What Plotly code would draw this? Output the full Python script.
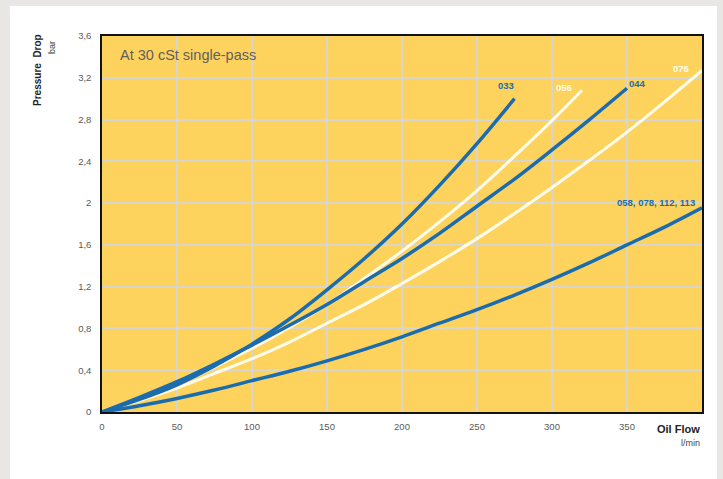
import plotly.graph_objects as go

# Oil flow (l/min) vs pressure drop (bar)
flow_033 = [0, 25, 50, 75, 100, 125, 150, 175, 200, 225, 250, 275]
dp_033 = [0, 0.12, 0.26, 0.44, 0.65, 0.89, 1.17, 1.47, 1.8, 2.17, 2.57, 3.0]

flow_056 = [0, 25, 50, 75, 100, 125, 150, 175, 200, 225, 250, 275, 300, 320]
dp_056 = [0, 0.12, 0.26, 0.43, 0.61, 0.81, 1.03, 1.28, 1.54, 1.82, 2.12, 2.45, 2.79, 3.08]

flow_044 = [0, 25, 50, 75, 100, 125, 150, 175, 200, 225, 250, 275, 300, 325, 350]
dp_044 = [0, 0.14, 0.29, 0.46, 0.64, 0.83, 1.03, 1.25, 1.47, 1.71, 1.97, 2.23, 2.51, 2.8, 3.1]

flow_076 = [0, 25, 50, 75, 100, 125, 150, 175, 200, 225, 250, 275, 300, 325, 350, 375, 400]
dp_076 = [0, 0.11, 0.23, 0.37, 0.51, 0.67, 0.85, 1.03, 1.23, 1.44, 1.66, 1.9, 2.15, 2.41, 2.68, 2.97, 3.27]

flow_058 = [0, 25, 50, 75, 100, 125, 150, 175, 200, 225, 250, 275, 300, 325, 350, 375, 400]
dp_058 = [0, 0.06, 0.13, 0.21, 0.3, 0.39, 0.49, 0.6, 0.72, 0.85, 0.98, 1.12, 1.27, 1.43, 1.6, 1.77, 1.955]

x_ticks = [0, 50, 100, 150, 200, 250, 300, 350]
y_ticks = [0, 0.4, 0.8, 1.2, 1.6, 2, 2.4, 2.8, 3.2, 3.6]
y_labels = ["0", "0,4", "0,8", "1,2", "1,6", "2", "2,4", "2,8", "3,2", "3,6"]

BLUE = "#1b6cae"
WHITE = "#fffcec"
YELLOW = "#fdd35e"
GRID = "#d8d6cc"

fig = go.Figure()

series = [
    (flow_076, dp_076, WHITE, 3),
    (flow_056, dp_056, WHITE, 3),
    (flow_058, dp_058, BLUE, 3.5),
    (flow_044, dp_044, BLUE, 3.5),
    (flow_033, dp_033, BLUE, 3.5),
]
for xs, ys, c, w in series:
    fig.add_trace(go.Scatter(x=xs, y=ys, mode="lines",
                             line=dict(color=c, width=w, shape="spline", smoothing=1),
                             hoverinfo="skip", showlegend=False))

# curve labels
lab_font = dict(family="Liberation Sans Narrow, Arial Narrow, Liberation Sans, sans-serif", size=9.5)
curve_labels = [
    ("033", 269, 3.13, BLUE),
    ("056", 308, 3.11, WHITE),
    ("044", 357, 3.15, BLUE),
    ("076", 386, 3.29, WHITE),
    ("058, 078, 112, 113", 369, 2.01, BLUE),
]
for txt, x, y, c in curve_labels:
    fig.add_annotation(x=x, y=y, text="<b>" + txt + "</b>", showarrow=False,
                       font=dict(color=c, **lab_font), xanchor="center", yanchor="middle")

# white card on grey page, then yellow plot area
fig.add_shape(type="rect", xref="paper", yref="paper", x0=-0.1533, x1=1.025, y0=-0.25, y1=1.0798,
              fillcolor="white", line=dict(width=0), layer="below")
fig.add_shape(type="rect", xref="paper", yref="paper", x0=0, x1=1, y0=0, y1=1,
              fillcolor=YELLOW, line=dict(width=0), layer="below")

fig.add_annotation(xref="paper", yref="paper", x=0.027, y=0.95, text="At 30 cSt single-pass",
                   showarrow=False, xanchor="left", yanchor="middle",
                   font=dict(family="Liberation Sans Narrow, Arial Narrow, Liberation Sans, sans-serif",
                             size=14.5, color="#5f5f5f"))
fig.add_annotation(xref="paper", yref="paper", x=-0.1067, y=0.9096, text="<b>Pressure  Drop</b>",
                   showarrow=False, textangle=-90, xanchor="center", yanchor="middle",
                   font=dict(family="Liberation Sans, Arial, sans-serif", size=10, color="#222"))
fig.add_annotation(xref="paper", yref="paper", x=-0.0833, y=0.968, text="bar",
                   showarrow=False, textangle=-90, xanchor="center", yanchor="middle",
                   font=dict(family="Liberation Sans, Arial, sans-serif", size=9, color="#444"))
fig.add_annotation(xref="paper", yref="paper", x=1.0, y=-0.045, text="<b>Oil Flow</b>",
                   showarrow=False, xanchor="right", yanchor="middle",
                   font=dict(family="Liberation Sans, Arial, sans-serif", size=11, color="#222"))
fig.add_annotation(xref="paper", yref="paper", x=1.0, y=-0.083, text="l/min",
                   showarrow=False, xanchor="right", yanchor="middle",
                   font=dict(family="Liberation Sans, Arial, sans-serif", size=9, color="#444"))

tick_font = dict(family="Liberation Sans Narrow, Arial Narrow, Liberation Sans, sans-serif", size=9.5, color="#5a5a5a")
fig.update_xaxes(range=[0, 400], tickvals=x_ticks, ticktext=[str(v) for v in x_ticks],
                 showgrid=True, gridcolor=GRID, gridwidth=2, zeroline=False,
                 showline=True, linecolor="#111", linewidth=1.5, mirror=True,
                 ticks="", ticklabelstandoff=5, tickfont=tick_font)
fig.update_yaxes(range=[0, 3.6], tickvals=y_ticks, ticktext=y_labels,
                 showgrid=True, gridcolor=GRID, gridwidth=2, zeroline=False,
                 showline=True, linecolor="#111", linewidth=1.5, mirror=True,
                 ticks="", ticklabelstandoff=7, tickfont=tick_font)

fig.update_layout(width=723, height=479, margin=dict(l=102, r=21, t=36, b=67),
                  paper_bgcolor="#e9e7e3", plot_bgcolor=YELLOW)

# drop the browser's default 8px body margin so the figure sits at the page corner
fig.write_html("out.html", config={"displayModeBar": False},
               post_script="document.body.style.margin='0';")
